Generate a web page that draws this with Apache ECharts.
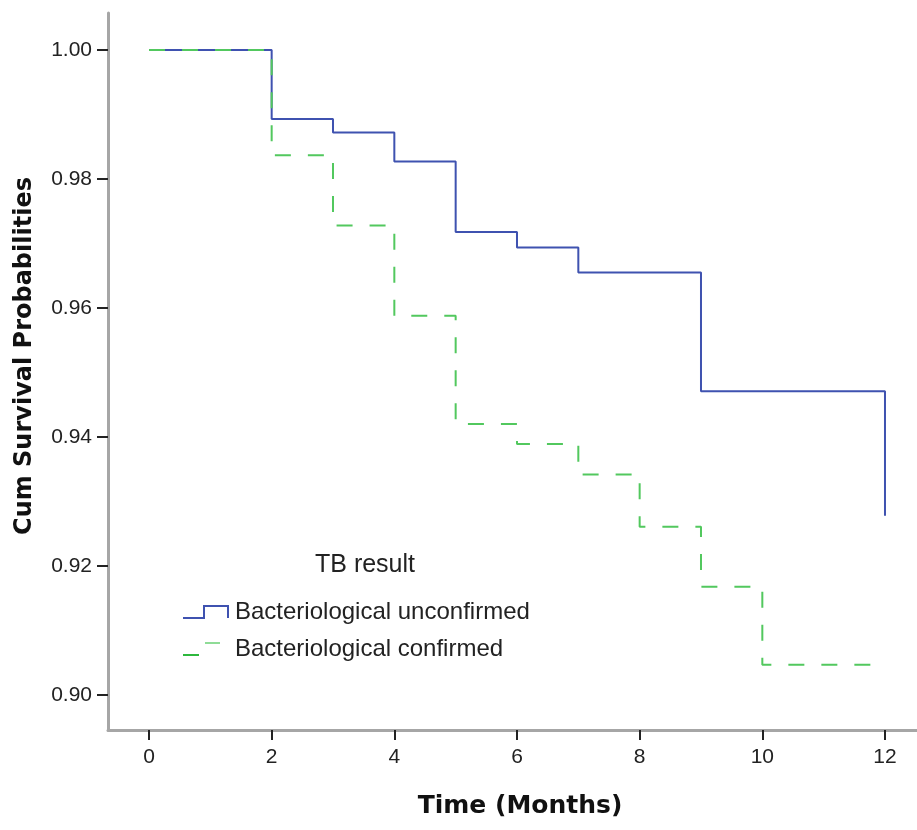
<!DOCTYPE html>
<html>
<head>
<meta charset="utf-8">
<script src="https://cdn.jsdelivr.net/npm/echarts@6/dist/echarts.min.js"></script>
<style>
html,body{margin:0;padding:0;background:#fff;}
#chart{width:917px;height:830px;}
</style>
</head>
<body>
<div id="chart"></div>
<script>
// Data (time in months, cumulative survival probability)
var unconfirmedTime = [0, 2, 3, 4, 5, 6, 7, 9, 12];
var unconfirmedSurv = [1.0, 0.9893, 0.9872, 0.9827, 0.9718, 0.9694, 0.9655, 0.9471, 0.9278];
var confirmedTime = [0, 2, 3, 4, 5, 6, 7, 8, 9, 10, 12];
var confirmedSurv = [1.0, 0.9837, 0.9728, 0.9588, 0.9420, 0.9389, 0.9342, 0.9261, 0.9168, 0.9047, 0.9047];
var xTicks = [0, 2, 4, 6, 8, 10, 12];
var yTicks = [0.90, 0.92, 0.94, 0.96, 0.98, 1.00];
var seriesNames = ['Bacteriological unconfirmed', 'Bacteriological confirmed'];
var legendTitle = 'TB result';
var xTitle = 'Time (Months)';
var yTitle = 'Cum Survival Probabilities';

function pairs(t, s) { return t.map(function (v, i) { return [v, s[i]]; }); }

var BLUE = '#3f52b0';
var GREEN = '#52c85e';
var FONT = '"Liberation Sans", Arial, sans-serif';
var TFONT = '"DejaVu Sans", Verdana, sans-serif';

var chart = echarts.init(document.getElementById('chart'), null, {renderer: 'canvas'});
chart.setOption({
  backgroundColor: '#ffffff',
  animation: false,
  grid: {left: 108, right: 0, top: 13, bottom: 100, containLabel: false},
  xAxis: {
    type: 'value', min: -0.6685, max: 12.522,
    splitLine: {show: false},
    axisLine: {show: true, onZero: false, lineStyle: {color: '#a6a6a6', width: 3}},
    axisTick: {show: true, customValues: xTicks, length: 10, lineStyle: {color: '#222', width: 2}},
    axisLabel: {customValues: xTicks, margin: 17, fontSize: 21, color: '#222', fontFamily: FONT}
  },
  yAxis: {
    type: 'value', min: 0.89457, max: 1.00574,
    splitLine: {show: false},
    axisLine: {show: true, onZero: false, lineStyle: {color: '#a6a6a6', width: 3}},
    axisTick: {show: true, customValues: yTicks, length: 11, lineStyle: {color: '#222', width: 2}},
    axisLabel: {customValues: yTicks, margin: 16, fontSize: 21, color: '#222', fontFamily: FONT,
      formatter: function (v) { return v.toFixed(2); }}
  },
  series: [
    {
      name: seriesNames[0], type: 'line', step: 'end', symbol: 'none',
      data: pairs(unconfirmedTime, unconfirmedSurv),
      lineStyle: {color: BLUE, width: 2}, z: 2
    },
    {
      name: seriesNames[1], type: 'line', step: 'end', symbol: 'none',
      data: pairs(confirmedTime, confirmedSurv),
      lineStyle: {color: GREEN, width: 2, type: [16, 17]}, z: 3
    }
  ],
  graphic: [
    {type: 'text', x: 25, y: 356, rotation: Math.PI / 2,
      style: {text: yTitle, font: 'bold 24px ' + TFONT, fill: '#111', align: 'center', verticalAlign: 'middle'}},
    {type: 'text', x: 520, y: 806,
      style: {text: xTitle, font: 'bold 25px ' + TFONT, fill: '#111', align: 'center', verticalAlign: 'middle'}},
    {type: 'text', x: 365, y: 565,
      style: {text: legendTitle, font: '25px ' + FONT, fill: '#222', align: 'center', verticalAlign: 'middle'}},
    {type: 'polyline', shape: {points: [[183, 618], [204, 618], [204, 606], [228, 606], [228, 618]]},
      style: {stroke: BLUE, lineWidth: 2, fill: null}},
    {type: 'text', x: 235, y: 612,
      style: {text: seriesNames[0], font: '24px ' + FONT, fill: '#222', align: 'left', verticalAlign: 'middle'}},
    {type: 'polyline', shape: {points: [[183, 655], [199, 655]]}, style: {stroke: '#2db83d', lineWidth: 2}},
    {type: 'polyline', shape: {points: [[205, 643], [220, 643]]}, style: {stroke: '#8fdc97', lineWidth: 2}},
    {type: 'text', x: 235, y: 649,
      style: {text: seriesNames[1], font: '24px ' + FONT, fill: '#222', align: 'left', verticalAlign: 'middle'}}
  ]
});
</script>
</body>
</html>
